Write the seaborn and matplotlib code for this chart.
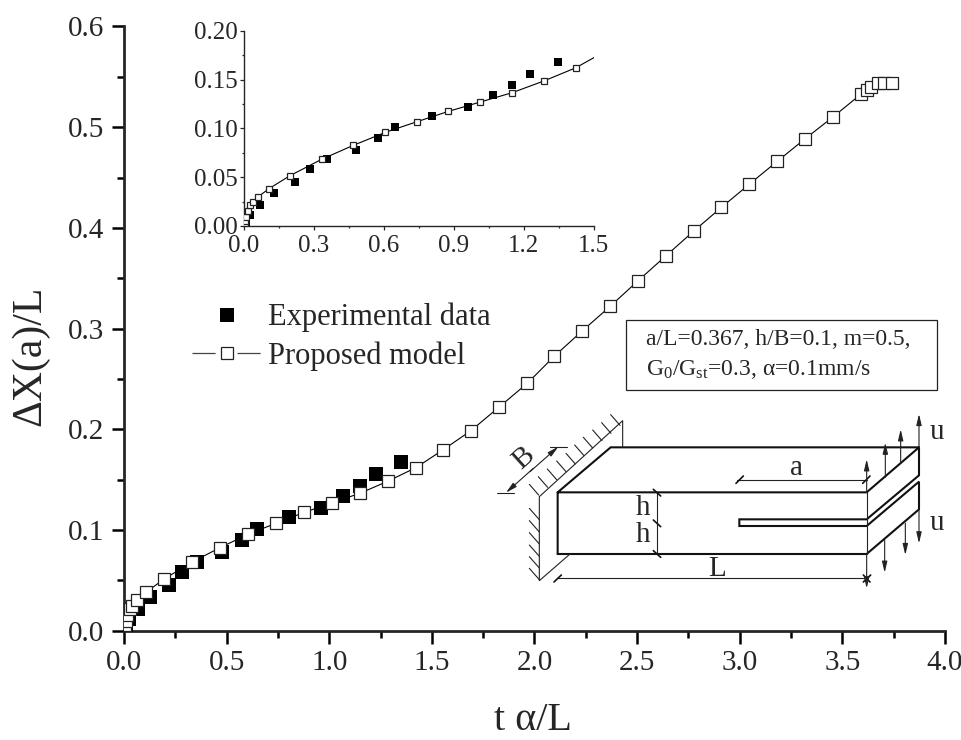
import numpy as np
import pandas as pd
import seaborn as sns
import matplotlib.pyplot as plt
from matplotlib.lines import Line2D
from matplotlib.patches import Rectangle
from matplotlib.ticker import MultipleLocator, FormatStrFormatter

# Values
exp_x = [0.010, 0.026, 0.067, 0.129, 0.219, 0.282, 0.355, 0.479, 0.575, 0.648,
         0.806, 0.962, 1.067, 1.150, 1.228, 1.348]
exp_y = [0.004, 0.0116, 0.0215, 0.0334, 0.0454, 0.058, 0.0686, 0.078, 0.090, 0.101,
         0.113, 0.122, 0.134, 0.144, 0.156, 0.1676]

model_x = [0.0015, 0.004, 0.006, 0.009, 0.016, 0.027, 0.037, 0.061, 0.107, 0.197,
           0.333, 0.469, 0.606, 0.742, 0.877, 1.014, 1.150, 1.286, 1.423, 1.553,
           1.690, 1.827, 1.964, 2.096, 2.232, 2.368, 2.505, 2.641, 2.776, 2.911,
           3.046, 3.182, 3.317, 3.454, 3.590, 3.622, 3.640, 3.673, 3.705, 3.741]
model_y = [0.001, 0.0027, 0.0055, 0.0096, 0.0157, 0.0212, 0.0249, 0.030, 0.0382, 0.0515,
           0.0683, 0.0826, 0.0959, 0.1068, 0.1174, 0.127, 0.1365, 0.1485, 0.162, 0.1794,
           0.1986, 0.222, 0.2455, 0.2725, 0.2976, 0.322, 0.3476, 0.3724, 0.3969, 0.4204,
           0.4433, 0.466, 0.4883, 0.5101, 0.5327, 0.5366, 0.5396, 0.5439, 0.5442, 0.5439]

main_xticks = [0.0, 0.5, 1.0, 1.5, 2.0, 2.5, 3.0, 3.5, 4.0]
main_yticks = [0.0, 0.1, 0.2, 0.3, 0.4, 0.5, 0.6]
inset_xticks = [0.0, 0.3, 0.6, 0.9, 1.2, 1.5]
inset_yticks = [0.00, 0.05, 0.10, 0.15, 0.20]

exp_df = pd.DataFrame({'x': exp_x, 'y': exp_y})
model_df = pd.DataFrame({'x': model_x, 'y': model_y})

W, H = 962, 740

sns.set_theme(style='ticks')
plt.rcParams['font.family'] = ['Liberation Serif', 'DejaVu Serif']
plt.rcParams['mathtext.fontset'] = 'custom'
plt.rcParams['mathtext.rm'] = 'Liberation Serif'


def pixel_axes(left, top, right, bottom, **kw):
    return fig.add_axes([left / W, 1 - bottom / H, (right - left) / W, (bottom - top) / H], **kw)


def draw_series(ax, line_ms, exp_ms, line_lw):
    sns.scatterplot(data=exp_df, x='x', y='y', ax=ax, marker='s', color='black', s=exp_ms ** 2,
                    linewidth=0, zorder=3, legend=False)
    sns.lineplot(data=model_df, x='x', y='y', ax=ax, sort=False, estimator=None, color='black',
                 linewidth=line_lw, marker='s', markersize=line_ms, markerfacecolor='white',
                 markeredgecolor='#222222', markeredgewidth=0.9, zorder=4, legend=False)


fig = plt.figure(figsize=(W / 100, H / 100), dpi=100)

# main plot
ax = pixel_axes(124, 26.5, 945, 630.7)
draw_series(ax, 9.0, 9.4, 0.8)
ax.set_xlim(0, 4)
ax.set_ylim(0, 0.6)
ax.set_xticks(main_xticks)
ax.set_yticks(main_yticks)
ax.xaxis.set_minor_locator(MultipleLocator(0.25))
ax.yaxis.set_minor_locator(MultipleLocator(0.05))
ax.xaxis.set_major_formatter(FormatStrFormatter('%.1f'))
ax.yaxis.set_major_formatter(FormatStrFormatter('%.1f'))
ax.tick_params(which='major', length=9, width=1.8, labelsize=21, color='black', pad=5)
ax.tick_params(which='minor', length=5, width=1.8, color='black')
sns.despine(ax=ax)
ax.spines['left'].set_linewidth(2)
ax.spines['bottom'].set_linewidth(2)
ax.set_xlabel('t α/L', fontsize=29)
ax.set_ylabel('ΔX(a)/L', fontsize=30)
ax.xaxis.set_label_coords((533 - 124) / 821, -(730 - 630.7) / 604.2, transform=ax.transAxes)
ax.xaxis.label.set_verticalalignment('baseline')
ax.yaxis.set_label_coords(-(124 - 30) / 821, (630.7 - 356) / 604.2, transform=ax.transAxes)
ax.yaxis.label.set_verticalalignment('center')

handles = [
    Line2D([], [], linestyle='none', marker='s', color='black', markersize=9.4, markeredgewidth=0),
    Line2D([], [], color='#444444', linewidth=0.9, linestyle=(0, (18.5, 17.5)), marker='s',
           markersize=9, markerfacecolor='white', markeredgecolor='#222222', markeredgewidth=0.9),
]
ax.legend(handles, ['Experimental data', 'Proposed model'], frameon=False, fontsize=22,
          loc='upper left', bbox_to_anchor=((192 - 124) / 821, 1 - (303 - 26.5) / 604.2),
          borderaxespad=0, borderpad=0, handlelength=2.29, handletextpad=0.2, labelspacing=0.3)

# inset
inset = pixel_axes(244, 30.7, 593.7, 226)
draw_series(inset, 4.8, 5.8, 0.8)
inset.set_xlim(0, 1.5)
inset.set_ylim(0, 0.20)
inset.set_xticks(inset_xticks)
inset.set_yticks(inset_yticks)
inset.xaxis.set_minor_locator(MultipleLocator(0.15))
inset.yaxis.set_minor_locator(MultipleLocator(0.025))
inset.xaxis.set_major_formatter(FormatStrFormatter('%.1f'))
inset.yaxis.set_major_formatter(FormatStrFormatter('%.2f'))
inset.tick_params(which='major', length=3, width=0.9, labelsize=18, pad=1.5)
inset.tick_params(axis='x', which='major', pad=3.5)
inset.tick_params(which='minor', length=1.5, width=0.9)
sns.despine(ax=inset)
inset.spines['left'].set_linewidth(1)
inset.spines['bottom'].set_linewidth(1)
inset.set_xlabel('')
inset.set_ylabel('')

# parameter box, in figure pixels
over = pixel_axes(0, 0, W, H)
over.set_xlim(0, W)
over.set_ylim(H, 0)
over.axis('off')
over.add_patch(Rectangle((626, 320), 311, 70, fill=False, edgecolor='#222222', linewidth=0.9))
over.text(646, 345, 'a/L=0.367, h/B=0.1, m=0.5,', fontsize=17, va='baseline')
over.text(646, 375, r'$\mathrm{G_0/G_{st}}$=0.3, α=0.1mm/s', fontsize=17, va='baseline')

# specimen sketch, coordinates are taken from a 3x crop of the region
sk = pixel_axes(490, 400, 940, 610)
sk.set_xlim(0, 1350)
sk.set_ylim(630, 0)
sk.axis('off')

thick = [
    [(203, 277), (1130, 277), (1287, 142), (362, 142), (203, 277), (203, 462), (1130, 462), (1287, 328),
     (1287, 245), (1130, 378), (748, 378), (748, 358), (1130, 358), (1287, 226), (1287, 142)],
]
for path in thick:
    xs, ys = zip(*path)
    sk.plot(xs, ys, color='#111111', lw=1.5, solid_joinstyle='miter', clip_on=False)

thin = [
    [(398, 142), (398, 62), (148, 290), (148, 542), (240, 462)],
    [(1130, 277), (1130, 462)],
    [(500, 277), (500, 462)],
    [(740, 240), (1130, 240)],
    [(203, 535), (1130, 535)],
    [(22, 278), (72, 278)],
    [(180, 140), (230, 140)],
]
for x0, y0 in [(118, 253), (145, 230), (172, 207), (200, 183), (228, 160), (254, 135), (280, 112), (308, 90),
               (335, 68), (362, 44)]:
    thin.append([(x0, y0), (x0 + 28, y0 + 32)])
for y0 in [325, 362, 398, 435, 470, 505]:
    thin.append([(118, y0), (148, y0 + 34)])
for path in thin:
    xs, ys = zip(*path)
    sk.plot(xs, ys, color='#222222', lw=0.8, clip_on=False)

dim_ticks = [((490, 268), (512, 288)), ((490, 360), (512, 380)), ((490, 452), (512, 472)),
             ((738, 250), (760, 228)), ((1118, 250), (1140, 228)), ((192, 546), (214, 525)),
             ((1120, 546), (1142, 525)), ((1120, 525), (1140, 546))]
for p, q in dim_ticks:
    sk.plot([p[0], q[0]], [p[1], q[1]], color='#111111', lw=1.2, clip_on=False)

arrows = [((1130, 277), (1130, 178)), ((1186, 232), (1186, 128)), ((1232, 190), (1232, 88)),
          ((1287, 142), (1287, 42)), ((1130, 462), (1130, 565)), ((1184, 420), (1184, 518)),
          ((1246, 370), (1246, 465)), ((1287, 328), (1287, 430)),
          ((130, 205), (48, 278)), ((120, 215), (205, 140))]
for start, end in arrows:
    sk.annotate('', xy=end, xytext=start, annotation_clip=False,
                arrowprops=dict(arrowstyle='-|>,head_length=0.55,head_width=0.13', color='#222222',
                                facecolor='white', lw=0.8, shrinkA=0, shrinkB=0))

sketch_labels = [('a', 920, 205, 0), ('h', 460, 325, 0), ('h', 460, 405, 0), ('L', 682, 507, 0),
                 ('B', 100, 175, 42), ('u', 1340, 95, 0), ('u', 1340, 370, 0)]
for label, lx, ly, rot in sketch_labels:
    sk.text(lx, ly, label, fontsize=21, ha='center', va='center', rotation=rot, clip_on=False)

fig.savefig('out.png', dpi=100)
